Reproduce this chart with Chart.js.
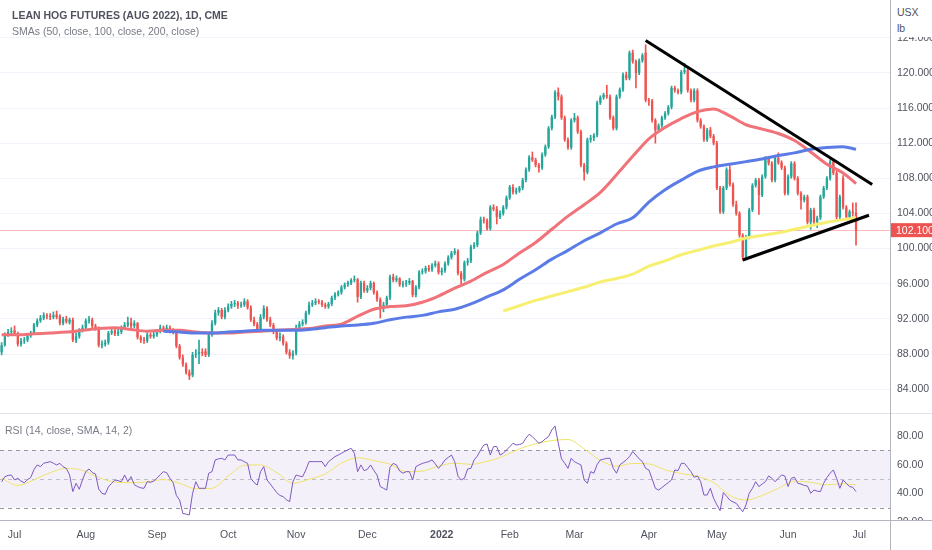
<!DOCTYPE html>
<html>
<head>
<meta charset="utf-8">
<script src="https://cdn.jsdelivr.net/npm/chart.js@4.4.0/dist/chart.umd.min.js"></script>
<style>
  html, body { margin: 0; padding: 0; background: #fff; }
  #wrap { position: relative; width: 932px; height: 550px; overflow: hidden; font-family: "Liberation Sans", Arial, sans-serif; }
  canvas { position: absolute; left: 0; display: block; }
  #main { top: 0; }
  #rsi { top: 412px; }
  .lbl { position: absolute; color: #50535e; font-size: 10.5px; white-space: nowrap; }
</style>
</head>
<body>
<div id="wrap">
  <canvas id="main" width="932" height="412"></canvas>
  <canvas id="rsi" width="932" height="138"></canvas>
  <div class="lbl" style="left:12px;top:9px;font-weight:bold;">LEAN HOG FUTURES (AUG 2022), 1D, CME</div>
  <div class="lbl" style="left:12px;top:25px;color:#787b86;">SMAs (50, close, 100, close, 200, close)</div>
  <div class="lbl" style="left:5px;top:424px;color:#787b86;">RSI (14, close, SMA, 14, 2)</div>
  <div class="lbl" style="left:891px;top:0;width:41px;height:37px;background:#fff;padding:4px 0 0 6px;box-sizing:border-box;line-height:16px;color:#50535e;">USX<br>lb</div>
</div>
<script>
// tick labels
const monthTicks = ["Jul", "Aug", "Sep", "Oct", "Nov", "Dec", "2022", "Feb", "Mar", "Apr", "May", "Jun", "Jul"];
const priceTicks = [84, 88, 92, 96, 100, 104, 108, 112, 116, 120, 124];
const rsiTicks = [20, 40, 60, 80];

// daily candles, one per weekday from 2021-06-25
const open = [
  88.2, 89.0, 90.2, 90.5, 90.7, 90.3, 89.1, 89.5, 89.6, 90.1,
  90.4, 91.3, 91.8, 92.1, 92.4, 92.3, 92.2, 92.5, 92.3, 91.5,
  92.0, 91.6, 91.9, 89.6, 90.0, 90.7, 91.0, 91.8, 91.9, 91.2,
  91.0, 89.0, 89.1, 89.3, 90.4, 90.7, 90.3, 90.5, 91.0, 91.3,
  91.6, 91.2, 91.5, 89.9, 89.6, 89.5, 90.2, 90.0, 90.2, 90.6,
  91.0, 90.8, 91.0, 90.6, 90.5, 88.9, 87.6, 86.8, 85.9, 85.6,
  87.9, 88.0, 88.2, 88.3, 87.9, 90.2, 91.5, 92.7, 93.0, 92.2,
  93.0, 93.4, 93.7, 93.8, 93.5, 93.6, 94.0, 93.3, 91.9, 91.4,
  90.7, 92.2, 93.2, 91.9, 91.3, 90.5, 89.8, 90.0, 89.2, 88.2,
  87.8, 88.1, 91.0, 91.4, 91.6, 92.7, 93.6, 93.8, 94.0, 93.9,
  93.6, 93.4, 93.7, 94.4, 94.8, 95.0, 95.6, 95.9, 96.1, 96.4,
  96.5, 94.5, 96.1, 95.2, 95.5, 96.1, 95.0, 94.2, 93.3, 93.6,
  94.4, 96.8, 96.4, 96.6, 95.9, 96.0, 96.1, 96.3, 94.7, 95.6,
  97.3, 97.4, 97.8, 97.6, 98.1, 98.3, 97.3, 97.5, 98.3, 99.0,
  99.5, 99.7, 97.2, 96.5, 98.4, 98.6, 100.2, 100.4, 101.8, 103.3,
  103.2, 102.3, 104.7, 104.5, 103.6, 104.0, 104.7, 105.8, 107.0, 106.4,
  106.6, 106.9, 107.8, 109.0, 110.4, 110.1, 109.5, 109.2, 110.7, 111.6,
  113.7, 115.0, 117.8, 117.3, 114.9, 112.4, 111.5, 114.6, 114.9, 113.3,
  109.5, 108.7, 112.4, 112.6, 112.9, 116.6, 117.2, 117.5, 117.3, 114.9,
  113.7, 117.3, 118.1, 119.8, 119.4, 122.3, 121.3, 120.0, 121.4, 122.3,
  116.9, 116.8, 114.6, 113.5, 114.0, 114.9, 115.4, 116.1, 118.3, 118.0,
  117.8, 120.1, 120.3, 118.0, 116.9, 118.0, 114.6, 113.9, 112.4, 113.5,
  112.8, 112.0, 106.9, 104.2, 106.9, 109.0, 107.3, 105.0, 104.0, 101.5,
  99.0, 101.3, 104.4, 107.2, 107.8, 106.1, 108.2, 110.3, 109.7, 107.8,
  110.3, 109.8, 109.2, 106.3, 108.2, 109.7, 108.0, 106.3, 105.5, 105.9,
  103.0, 104.4, 103.0, 103.5, 105.9, 106.9, 108.0, 109.9, 108.6, 103.6,
  108.0, 104.7, 103.6, 104.2, 104.1
];
const high = [
  89.3, 90.4, 90.8, 91.0, 91.2, 90.5, 89.8, 89.9, 90.3, 90.6,
  91.5, 92.0, 92.4, 92.7, 92.6, 92.6, 92.8, 92.9, 92.5, 92.2,
  92.3, 92.1, 92.1, 90.4, 90.9, 91.3, 92.0, 92.3, 92.1, 91.4,
  91.1, 89.5, 89.6, 90.6, 90.9, 91.0, 90.8, 91.2, 91.6, 92.2,
  92.1, 91.8, 91.6, 90.1, 89.9, 90.5, 90.4, 90.5, 90.8, 91.3,
  91.2, 91.3, 91.2, 90.9, 90.6, 89.1, 87.9, 87.0, 86.2, 88.2,
  88.5, 89.6, 88.6, 88.6, 90.4, 91.8, 93.0, 93.3, 93.2, 93.3,
  93.7, 94.0, 94.1, 94.0, 93.9, 94.3, 94.2, 93.5, 92.2, 91.6,
  92.5, 93.5, 93.4, 92.2, 91.5, 90.7, 90.4, 90.2, 89.4, 88.5,
  88.4, 91.3, 91.7, 91.9, 92.9, 93.9, 94.1, 94.3, 94.2, 94.1,
  93.8, 93.9, 94.6, 95.0, 95.2, 95.8, 96.1, 96.3, 96.6, 96.9,
  96.6, 96.3, 96.3, 95.8, 96.3, 96.2, 95.2, 94.4, 93.9, 94.6,
  97.0, 97.1, 96.9, 96.7, 96.3, 96.4, 96.6, 96.4, 95.8, 97.5,
  97.7, 98.0, 98.1, 98.3, 98.6, 98.5, 97.8, 98.5, 99.2, 99.7,
  100.0, 99.9, 97.4, 98.6, 98.9, 100.4, 100.7, 102.0, 103.6, 103.6,
  103.4, 104.9, 105.0, 104.8, 104.3, 104.9, 106.0, 107.2, 107.3, 106.9,
  107.1, 108.0, 109.2, 110.6, 111.0, 110.3, 109.7, 110.9, 111.8, 113.9,
  115.2, 118.0, 118.3, 117.5, 115.1, 112.6, 114.8, 115.4, 115.1, 113.5,
  109.7, 112.6, 112.9, 113.1, 116.8, 117.4, 117.7, 118.6, 117.5, 115.1,
  117.5, 118.3, 120.0, 120.1, 122.5, 122.6, 121.5, 121.6, 122.2, 123.2,
  117.1, 117.0, 114.8, 114.2, 115.1, 115.6, 116.3, 118.5, 118.5, 118.2,
  120.3, 121.1, 120.5, 118.2, 118.2, 118.2, 114.8, 114.1, 113.7, 113.8,
  113.0, 112.2, 107.1, 107.1, 109.2, 109.4, 107.5, 105.4, 104.2, 101.7,
  101.5, 104.6, 107.4, 108.0, 108.0, 108.4, 110.5, 110.5, 109.9, 110.5,
  110.9, 110.0, 109.4, 108.4, 109.9, 109.9, 108.2, 106.5, 106.1, 106.1,
  104.6, 104.6, 103.7, 106.1, 107.1, 108.2, 110.1, 110.1, 108.8, 106.1,
  108.3, 104.9, 104.4, 105.2, 105.2
];
const low = [
  87.9, 88.9, 90.0, 90.3, 90.1, 88.9, 88.9, 89.2, 89.4, 89.9,
  90.2, 91.1, 91.6, 91.9, 92.0, 91.9, 92.0, 92.0, 91.3, 91.3,
  91.5, 91.4, 89.4, 89.3, 89.8, 90.5, 90.8, 91.5, 91.0, 90.7,
  88.8, 88.7, 88.9, 89.1, 90.2, 90.1, 90.1, 90.3, 90.8, 91.1,
  91.0, 91.0, 89.7, 89.3, 89.2, 89.3, 89.8, 89.8, 90.0, 90.4,
  90.6, 90.6, 90.4, 90.3, 88.7, 87.4, 86.6, 85.7, 85.1, 85.4,
  87.6, 86.9, 87.8, 87.7, 87.7, 90.0, 91.3, 92.4, 92.0, 92.0,
  92.8, 93.2, 93.4, 93.2, 93.3, 93.4, 93.1, 91.7, 91.2, 90.5,
  90.5, 92.0, 91.7, 91.1, 90.3, 89.6, 89.5, 89.0, 88.0, 87.5,
  87.4, 87.9, 90.8, 91.2, 91.4, 92.5, 93.4, 93.6, 93.7, 93.4,
  93.2, 93.2, 93.5, 94.2, 94.6, 94.8, 95.4, 95.7, 95.9, 96.2,
  93.9, 94.3, 95.0, 95.0, 95.3, 94.8, 94.0, 92.1, 92.8, 93.4,
  94.2, 96.2, 96.2, 95.7, 95.6, 95.7, 95.9, 94.5, 94.5, 95.4,
  97.1, 97.2, 97.4, 97.4, 97.9, 97.1, 97.0, 97.3, 98.1, 98.8,
  99.3, 97.0, 96.0, 96.3, 98.1, 98.4, 100.0, 100.2, 101.6, 102.9,
  102.1, 102.1, 104.3, 102.8, 103.4, 103.8, 104.5, 105.6, 106.2, 106.2,
  106.4, 106.7, 107.6, 108.8, 109.9, 109.3, 108.7, 109.0, 110.5, 111.4,
  113.5, 114.8, 116.9, 114.7, 112.2, 111.3, 111.3, 114.4, 113.1, 109.3,
  107.8, 108.5, 112.1, 112.3, 112.7, 116.4, 117.0, 117.1, 114.7, 113.5,
  113.5, 117.1, 117.9, 119.2, 119.2, 121.1, 118.3, 119.8, 121.2, 116.7,
  116.3, 114.4, 112.0, 113.3, 113.8, 114.7, 115.2, 115.9, 117.8, 117.6,
  117.6, 119.9, 117.8, 116.7, 116.7, 114.4, 113.7, 112.2, 112.2, 112.6,
  111.8, 106.7, 104.0, 104.0, 106.7, 107.1, 104.8, 103.8, 101.3, 98.7,
  98.8, 101.1, 104.2, 107.0, 103.9, 105.9, 108.0, 109.5, 107.6, 107.6,
  109.6, 109.0, 106.1, 106.1, 108.0, 107.8, 106.1, 104.5, 105.3, 102.8,
  102.2, 102.8, 102.4, 103.3, 105.7, 106.7, 107.8, 108.4, 103.4, 103.4,
  104.5, 103.4, 103.4, 103.7, 100.4
];
const close = [
  89.0, 90.2, 90.5, 90.6, 90.3, 89.1, 89.5, 89.6, 90.1, 90.4,
  91.3, 91.8, 92.1, 92.4, 92.3, 92.2, 92.4, 92.2, 91.5, 92.0,
  91.7, 91.9, 89.6, 90.0, 90.7, 91.0, 91.8, 91.9, 91.2, 91.0,
  89.0, 89.1, 89.3, 90.4, 90.6, 90.3, 90.5, 91.0, 91.3, 91.6,
  91.2, 91.5, 89.9, 89.6, 89.5, 90.2, 90.0, 90.2, 90.6, 91.0,
  90.8, 91.0, 90.6, 90.5, 88.9, 87.6, 86.8, 85.9, 85.5, 87.9,
  88.0, 88.2, 88.1, 87.9, 90.2, 91.5, 92.7, 93.0, 92.2, 93.0,
  93.4, 93.7, 93.8, 93.5, 93.6, 94.0, 93.3, 91.9, 91.4, 90.7,
  92.2, 93.2, 91.9, 91.3, 90.5, 89.8, 90.0, 89.2, 88.2, 87.8,
  88.1, 91.0, 91.4, 91.6, 92.7, 93.6, 93.8, 94.0, 93.9, 93.6,
  93.4, 93.7, 94.4, 94.8, 95.0, 95.6, 95.9, 96.1, 96.4, 96.5,
  94.5, 96.1, 95.2, 95.5, 96.1, 95.0, 94.2, 93.3, 93.6, 94.4,
  96.8, 96.4, 96.6, 95.9, 96.0, 96.1, 96.3, 94.7, 95.6, 97.3,
  97.4, 97.8, 97.6, 98.1, 98.3, 97.3, 97.5, 98.3, 99.0, 99.5,
  99.7, 97.2, 96.5, 98.4, 98.6, 100.2, 100.4, 101.8, 103.3, 103.2,
  102.3, 104.7, 104.5, 103.6, 104.0, 104.7, 105.8, 107.0, 106.4, 106.6,
  106.9, 107.8, 109.0, 110.4, 110.1, 109.5, 109.2, 110.7, 111.6, 113.7,
  115.0, 117.8, 117.3, 114.9, 112.4, 111.5, 114.6, 114.9, 113.3, 109.5,
  108.7, 112.4, 112.6, 112.9, 116.6, 117.2, 117.5, 117.3, 114.9, 113.7,
  117.3, 118.1, 119.8, 119.4, 122.3, 121.3, 120.0, 121.4, 122.0, 116.9,
  116.8, 114.6, 113.5, 114.0, 114.9, 115.4, 116.1, 118.3, 118.0, 117.8,
  120.1, 120.3, 118.0, 116.9, 118.0, 114.6, 113.9, 112.4, 113.5, 112.8,
  112.0, 106.9, 104.2, 106.9, 109.0, 107.3, 105.0, 104.0, 101.5, 99.0,
  101.3, 104.4, 107.2, 107.8, 106.1, 108.2, 110.3, 109.7, 107.8, 110.3,
  109.8, 109.2, 106.3, 108.2, 109.7, 108.0, 106.3, 105.5, 105.9, 103.0,
  104.4, 103.0, 103.5, 105.9, 106.9, 108.0, 109.9, 108.6, 103.6, 105.9,
  104.7, 103.6, 104.2, 104.1, 102.1
];

// moving averages, read every 5th bar
const smaIdx = [0, 5, 10, 15, 20, 25, 30, 35, 40, 45, 50, 55, 60, 65, 70, 75, 80, 85, 90, 95,
  100, 105, 110, 115, 120, 125, 130, 135, 140, 145, 150, 155, 160, 165, 170, 175, 180, 185, 190, 195,
  200, 205, 210, 215, 220, 225, 230, 235, 240, 245, 250, 255, 260, 264];
const sma50 = [90.2, 90.2, 90.3, 90.4, 90.5, 90.7, 90.9, 91.0, 90.8, 90.6,
  90.7, 90.7, 90.5, 90.4, 90.4, 90.5, 90.6, 90.7, 90.8, 90.9,
  91.2, 91.4, 92.3, 93.1, 93.4, 93.5, 93.9, 94.6, 95.5, 96.3,
  97.3, 98.2, 99.5, 100.7, 102.2, 103.7, 105.0, 106.4, 108.4, 110.5,
  112.5, 113.8, 114.8, 115.6, 115.9, 115.1, 114.1, 113.6, 113.1, 112.3,
  111.0, 109.6, 108.6, 107.4];
const sma100 = [null, null, null, null, null, null, null, null, null, null,
  90.6, 90.5, 90.4, 90.4, 90.5, 90.6, 90.7, 90.7, 90.7, 90.8,
  91.0, 91.2, 91.3, 91.5, 91.9, 92.2, 92.4, 92.8, 93.1, 93.7,
  94.5, 95.3, 96.5, 97.6, 98.8, 99.8, 100.9, 101.8, 102.8, 103.5,
  105.3, 106.7, 107.8, 108.8, 109.3, 109.6, 109.9, 110.2, 110.6, 110.9,
  111.3, 111.5, 111.6, 111.3];
const sma200 = [null, null, null, null, null, null, null, null, null, null,
  null, null, null, null, null, null, null, null, null, null,
  null, null, null, null, null, null, null, null, null, null,
  null, 92.9, 93.5, 94.1, 94.6, 95.1, 95.6, 96.2, 96.6, 97.1,
  98.0, 98.6, 99.3, 99.8, 100.3, 100.7, 101.2, 101.5, 101.8, 102.2,
  102.6, 103.0, 103.3, 103.5];

// RSI(14) per bar and its SMA(14) every 5th bar
const rsi = [
  48.0, 51.6, 52.5, 52.8, 49.3, 50.5, 48.5, 47.4, 49.5, 51.0,
  56.5, 59.8, 58.6, 61.0, 61.5, 62.1, 61.0, 59.8, 60.9, 58.5,
  57.4, 52.8, 41.2, 47.0, 42.8, 49.5, 55.1, 57.0, 54.5, 53.5,
  43.0, 40.0, 39.3, 44.5, 47.0, 49.3, 48.8, 48.1, 52.8, 48.1,
  51.6, 46.0, 44.7, 43.8, 43.5, 48.1, 47.7, 48.5, 50.5, 53.0,
  55.1, 54.4, 50.5, 47.4, 38.5, 35.3, 26.0, 25.5, 24.9, 40.0,
  48.1, 43.5, 43.5, 43.5, 54.0, 55.1, 63.3, 64.0, 64.4, 63.3,
  66.7, 66.7, 66.7, 63.3, 63.3, 62.0, 60.9, 50.5, 47.5, 45.8,
  55.1, 58.6, 49.3, 46.5, 43.5, 40.5, 38.5, 37.7, 35.5, 34.2,
  48.1, 52.8, 52.0, 51.6, 56.3, 62.1, 62.1, 62.1, 62.1, 62.1,
  58.6, 62.1, 63.8, 65.6, 66.7, 67.9, 69.2, 70.3, 71.4, 67.9,
  55.1, 59.8, 55.8, 56.7, 59.8, 56.0, 52.8, 44.7, 43.5, 42.3,
  58.0, 60.9, 59.8, 55.5, 54.0, 55.1, 55.1, 49.3, 58.6, 59.8,
  60.9, 61.5, 62.1, 63.3, 60.5, 57.4, 60.0, 63.3, 65.0, 66.7,
  62.1, 52.0, 49.3, 50.5, 57.0, 57.4, 63.3, 66.0, 70.2, 73.7,
  74.4, 66.7, 72.6, 72.6, 66.7, 67.9, 70.2, 72.5, 74.9, 73.7,
  74.0, 74.9, 78.4, 81.2, 79.5, 77.2, 74.9, 76.0, 78.0, 79.5,
  84.2, 87.0, 74.9, 64.0, 61.0, 57.4, 64.4, 62.0, 60.9, 59.8,
  49.3, 47.0, 55.1, 54.0, 60.0, 63.3, 63.8, 64.4, 64.4, 57.4,
  54.0, 59.8, 61.5, 63.3, 65.6, 69.1, 66.7, 64.0, 62.1, 57.4,
  56.3, 50.0, 43.5, 42.3, 44.0, 45.8, 47.5, 49.3, 56.3, 55.8,
  60.9, 60.9, 58.0, 55.1, 51.2, 52.1, 48.1, 38.8, 38.8, 43.5,
  36.5, 32.0, 27.9, 40.5, 38.0, 35.3, 34.0, 33.0, 30.0, 27.2,
  31.9, 40.0, 43.5, 48.1, 44.7, 46.5, 48.1, 52.1, 50.5, 48.1,
  50.5, 52.8, 52.1, 44.7, 50.5, 51.2, 47.0, 46.5, 45.5, 45.1,
  40.0, 42.3, 41.5, 41.2, 47.0, 51.0, 54.0, 56.3, 50.5, 43.5,
  49.3, 47.0, 44.7, 44.2, 41.2
];
const rsiMa = [50.5, 45.5, 49.4, 54.4, 57.4, 56.0, 51.0, 47.8, 47.4, 48.0,
  49.6, 47.0, 43.2, 43.5, 52.0, 59.5, 59.8, 54.5, 47.0, 49.8,
  53.5, 61.0, 64.8, 62.8, 60.3, 55.1, 55.5, 59.0, 61.0, 60.2,
  62.3, 65.8, 71.0, 74.5, 76.8, 77.5, 71.0, 63.0, 58.9, 60.8,
  60.5, 56.4, 53.8, 51.8, 47.5, 38.5, 35.3, 38.5, 43.5, 48.5,
  47.7, 45.9, 46.7, 45.8];

// drawn trend lines: [bar index, price]
const upperTrend = [[199, 123.7], [269, 107.3]];
const lowerTrend = [[229, 98.7], [268, 103.8]];

const UP = "#26a69a";
const DOWN = "#ef5350";
const FONT = "10.5px 'Liberation Sans', Arial, sans-serif";

// weekday dates, with room on the right after the last bar
const dates = [];
const day = new Date(Date.UTC(2021, 5, 25));
while (dates.length < 275) {
  const wd = day.getUTCDay();
  if (wd !== 0 && wd !== 6) dates.push(day.toISOString().slice(0, 10));
  day.setUTCDate(day.getUTCDate() + 1);
}
const tickAt = {};
let m = 0;
dates.forEach((s, i) => {
  if (i > 0 && s.slice(5, 7) !== dates[i - 1].slice(5, 7)) tickAt[i] = monthTicks[m++];
});

const candleColors = close.map((c, i) => (c >= open[i] ? UP : DOWN));
const pts = (idx, vals) => idx.map((i, k) => ({ x: dates[i], y: vals[k] })).filter(p => p.y !== null);
const seg = (line) => line.map(([i, v]) => ({ x: dates[i], y: v }));

// right-hand price labels, drawn by hand so they take no layout padding
function axisLabels(chart, ticks, digits) {
  const { ctx, chartArea } = chart;
  const ys = chart.scales.y;
  ctx.save();
  ctx.fillStyle = "#50535e";
  ctx.font = FONT;
  ctx.textAlign = "left";
  ctx.textBaseline = "middle";
  ticks.forEach(v => ctx.fillText(v.toFixed(digits), chartArea.right + 7, ys.getPixelForValue(v)));
  ctx.restore();
}

const priceLine = {
  id: "priceLine",
  beforeDatasetsDraw(chart) {
    const { ctx, chartArea } = chart;
    const y = Math.round(chart.scales.y.getPixelForValue(close[close.length - 1])) + 0.5;
    ctx.save();
    ctx.strokeStyle = "rgba(239, 83, 80, 0.4)";
    ctx.lineWidth = 1;
    ctx.beginPath();
    ctx.moveTo(chartArea.left, y);
    ctx.lineTo(chartArea.right, y);
    ctx.stroke();
    ctx.restore();
  },
  afterDraw(chart) {
    const { ctx, chartArea } = chart;
    axisLabels(chart, priceTicks, 3);
    const last = close[close.length - 1];
    const y = chart.scales.y.getPixelForValue(last);
    ctx.save();
    ctx.fillStyle = DOWN;
    ctx.fillRect(chartArea.right + 1, y - 7, 41, 14);
    ctx.fillStyle = "#fff";
    ctx.font = FONT;
    ctx.textBaseline = "middle";
    ctx.fillText(last.toFixed(3), chartArea.right + 6, y + 0.5);
    ctx.restore();
  }
};

new Chart(document.getElementById("main"), {
  type: "bar",
  data: {
    labels: dates,
    datasets: [
      { type: "line", data: seg(upperTrend), borderColor: "#000", borderWidth: 3, pointRadius: 0, order: 0 },
      { type: "line", data: seg(lowerTrend), borderColor: "#000", borderWidth: 3, pointRadius: 0, order: 0 },
      { type: "line", data: pts(smaIdx, sma100), borderColor: "#5b7ce6", borderWidth: 3, pointRadius: 0,
        tension: 0.4, cubicInterpolationMode: "monotone", order: 1 },
      { type: "line", data: pts(smaIdx, sma50), borderColor: "#f07379", borderWidth: 3, pointRadius: 0,
        tension: 0.4, cubicInterpolationMode: "monotone", order: 2 },
      { type: "line", data: pts(smaIdx, sma200), borderColor: "#f7ef72", borderWidth: 3, pointRadius: 0,
        tension: 0.4, cubicInterpolationMode: "monotone", order: 3 },
      { data: open.map((o, i) => [o, close[i]]), backgroundColor: candleColors, grouped: false,
        barPercentage: 0.8, categoryPercentage: 0.9, minBarLength: 1, order: 4 },
      { data: low.map((l, i) => [l, high[i]]), backgroundColor: candleColors, grouped: false,
        barThickness: 1, order: 5 }
    ]
  },
  options: {
    responsive: false,
    animation: false,
    layout: { padding: 0 },
    plugins: { legend: { display: false }, tooltip: { enabled: false } },
    scales: {
      x: { display: false },
      y: {
        position: "right",
        min: 81.4,
        max: 128.3,
        afterBuildTicks: (s) => { s.ticks = priceTicks.map(v => ({ value: v })); },
        afterFit: (s) => { s.width = 42; },
        ticks: { display: false },
        grid: { color: "#f0f3fa", drawTicks: false },
        border: { display: true, color: "#b2b5be" }
      }
    }
  },
  plugins: [priceLine]
});

const rsiBands = {
  id: "rsiBands",
  beforeDatasetsDraw(chart) {
    const { ctx, chartArea } = chart;
    const ys = chart.scales.y;
    const y70 = ys.getPixelForValue(70), y30 = ys.getPixelForValue(30), y50 = ys.getPixelForValue(50);
    ctx.save();
    ctx.fillStyle = "rgba(126, 87, 194, 0.09)";
    ctx.fillRect(chartArea.left, y70, chartArea.right - chartArea.left, y30 - y70);
    ctx.lineWidth = 1;
    ctx.setLineDash([4, 4]);
    [[y70, "#9598a1"], [y50, "rgba(149, 152, 161, 0.55)"], [y30, "#9598a1"]].forEach(([y, c]) => {
      ctx.strokeStyle = c;
      ctx.beginPath();
      ctx.moveTo(chartArea.left, Math.round(y) + 0.5);
      ctx.lineTo(chartArea.right, Math.round(y) + 0.5);
      ctx.stroke();
    });
    ctx.restore();
  },
  afterDraw(chart) {
    const { ctx, chartArea } = chart;
    axisLabels(chart, rsiTicks, 2);
    ctx.save();
    ctx.strokeStyle = "#e0e3eb";
    ctx.lineWidth = 1;
    ctx.beginPath();
    ctx.moveTo(0, 1.5);
    ctx.lineTo(chart.width, 1.5);
    ctx.stroke();
    // time axis strip covers the lowest RSI label like the original
    ctx.fillStyle = "#fff";
    ctx.fillRect(0, chartArea.bottom + 1, chart.width, chart.height - chartArea.bottom);
    ctx.strokeStyle = "#b2b5be";
    ctx.beginPath();
    ctx.moveTo(0, chartArea.bottom + 0.5);
    ctx.lineTo(chart.width, chartArea.bottom + 0.5);
    ctx.moveTo(chartArea.right + 0.5, 0);
    ctx.lineTo(chartArea.right + 0.5, chart.height);
    ctx.stroke();
    ctx.fillStyle = "#50535e";
    ctx.textBaseline = "middle";
    ctx.textAlign = "center";
    const xs = chart.scales.x;
    Object.keys(tickAt).forEach((i) => {
      const lab = tickAt[i];
      ctx.font = (lab === "2022" ? "bold " : "") + FONT;
      ctx.fillText(lab, xs.getPixelForValue(+i), chartArea.bottom + 15);
    });
    ctx.restore();
  }
};

new Chart(document.getElementById("rsi"), {
  type: "line",
  data: {
    labels: dates,
    datasets: [
      { data: rsi, borderColor: "#7e57c2", borderWidth: 1, pointRadius: 0, order: 0 },
      { data: pts(smaIdx, rsiMa), borderColor: "#efe36a", borderWidth: 1, pointRadius: 0,
        tension: 0.4, cubicInterpolationMode: "monotone", order: 1 }
    ]
  },
  options: {
    responsive: false,
    animation: false,
    layout: { padding: 0 },
    plugins: { legend: { display: false }, tooltip: { enabled: false } },
    scales: {
      x: {
        offset: true,
        afterFit: (s) => { s.height = 30; },
        ticks: { display: false },
        grid: { display: false },
        border: { display: false }
      },
      y: {
        position: "right",
        min: 21.4,
        max: 96.7,
        afterBuildTicks: (s) => { s.ticks = rsiTicks.map(v => ({ value: v })); },
        afterFit: (s) => { s.width = 42; },
        ticks: { display: false },
        grid: { display: false },
        border: { display: false }
      }
    }
  },
  plugins: [rsiBands]
});
</script>
</body>
</html>
